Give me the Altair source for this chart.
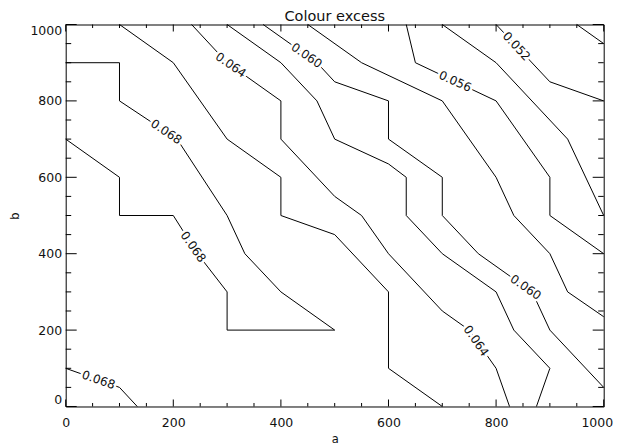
import altair as alt
import pandas as pd

title_text = "Colour excess"
x_title = "a"
y_title = "b"

# contour lines, vertices in data units (a, b)
c01_a = [0, 100, 133]
c01_b = [100, 50, 0]
c02_a = [0, 100, 100, 200, 245, 300, 300, 500, 400, 333, 300, 207, 100, 100, 0]
c02_b = [700, 600, 500, 500, 400, 300, 200, 200, 300, 400, 500, 700, 800, 900, 900]
c03_a = [100, 200, 300, 400, 400, 500, 600, 600, 700]
c03_b = [1000, 900, 700, 600, 500, 450, 300, 100, 0]
c04_a = [234, 300, 400, 400, 500, 550, 600, 700, 750, 800, 825]
c04_b = [1000, 900, 800, 700, 550, 500, 400, 250, 200, 100, 0]
c05_a = [300, 400, 467, 500, 600, 633, 633, 700, 800, 833, 900, 875]
c05_b = [1000, 900, 800, 700, 635, 600, 500, 400, 300, 200, 100, 0]
c06_a = [367, 467, 500, 600, 600, 700, 700, 767, 867, 900, 1000]
c06_b = [1000, 900, 850, 800, 700, 600, 500, 400, 300, 200, 50]
c07_a = [450, 550, 700, 800, 833, 900, 933, 1000]
c07_b = [1000, 900, 800, 600, 500, 400, 300, 235]
c08_a = [633, 650, 800, 900, 900, 1000]
c08_b = [1000, 900, 800, 600, 500, 400]
c09_a = [700, 800, 933, 1000]
c09_b = [1000, 900, 700, 500]
c10_a = [800, 900, 1000]
c10_b = [1000, 850, 800]
c11_a = [950, 1000]
c11_b = [1000, 950]

contours = [
    ("c01", c01_a, c01_b), ("c02", c02_a, c02_b), ("c03", c03_a, c03_b),
    ("c04", c04_a, c04_b), ("c05", c05_a, c05_b), ("c06", c06_a, c06_b),
    ("c07", c07_a, c07_b), ("c08", c08_a, c08_b), ("c09", c09_a, c09_b),
    ("c10", c10_a, c10_b), ("c11", c11_a, c11_b),
]

# contour labels
label_text = ["0.068", "0.068", "0.068", "0.064", "0.064", "0.060", "0.060", "0.056", "0.052"]
label_a = [61, 187, 237, 307, 763, 448, 855, 724, 838]
label_b = [70, 719, 418, 894, 172, 919, 312, 851, 943]
label_angle = [19, 34, 55, 35, 55, 35, 35, 24, 47]

tick_major = [0, 200, 400, 600, 800, 1000]
tick_minor = [50, 100, 150, 250, 300, 350, 450, 500, 550, 650, 700, 750, 850, 900, 950]

rows = []
for name, av, bv in contours:
    for i, (a, b) in enumerate(zip(av, bv)):
        rows.append({"line": name, "i": i, "a": a, "b": b})
lines_df = pd.DataFrame(rows)
labels_df = pd.DataFrame({"t": label_text, "a": label_a, "b": label_b, "ang": label_angle})

W, H = 538, 382
FONT = "DejaVu Sans"
xs = alt.Scale(domain=[0, 1000], nice=False, zero=False)
ys = alt.Scale(domain=[0, 1000], nice=False, zero=False)

last_x = "datum.value === 1000"
x_axis = alt.Axis(
    values=tick_major, format="d", ticks=False, domain=False, grid=False,
    labelPadding=10, labelFlush=False, labelFont=FONT, labelFontSize=12.5,
    labelAlign={"condition": {"test": last_x, "value": "right"}, "value": "center"},
    labelOffset={"condition": {"test": last_x, "value": 9}, "value": 0},
    labelColor="#111", title=x_title, titleFont=FONT, titleFontSize=11.5,
    titleFontWeight="normal", titleColor="#111", titleY=36,
    titleBaseline="alphabetic")
y_axis = alt.Axis(
    values=tick_major, format="d", ticks=False, domain=False, grid=False,
    labelPadding=4, labelFlush=True, labelFont=FONT, labelFontSize=12.5,
    labelColor="#111", title=y_title, titleFont=FONT, titleFontSize=11.5,
    titleFontWeight="normal", titleColor="#111", titleX=-47.5, titleY=191,
    titleAngle=270, titleAlign="center", titleBaseline="alphabetic")

lines = alt.Chart(lines_df).mark_line(color="black", strokeWidth=1).encode(
    x=alt.X("a:Q", scale=xs, axis=x_axis),
    y=alt.Y("b:Q", scale=ys, axis=y_axis),
    detail="line:N",
    order="i:Q",
)

halo = alt.Chart(labels_df).mark_text(
    font=FONT, fontSize=12, color="white", stroke="white", strokeWidth=5,
    align="center", baseline="middle",
).encode(
    x=alt.X("a:Q", scale=xs, axis=x_axis),
    y=alt.Y("b:Q", scale=ys, axis=y_axis),
    text="t:N",
    angle=alt.Angle("ang:Q", scale=None),
)
texts = alt.Chart(labels_df).mark_text(
    font=FONT, fontSize=12, color="#111", align="center", baseline="middle",
).encode(
    x=alt.X("a:Q", scale=xs, axis=x_axis),
    y=alt.Y("b:Q", scale=ys, axis=y_axis),
    text="t:N",
    angle=alt.Angle("ang:Q", scale=None),
)


def xticks(vals, y0, y1):
    return alt.Chart(pd.DataFrame({"a": vals})).mark_rule(color="black", strokeWidth=1).encode(
        x=alt.X("a:Q", scale=xs, axis=x_axis), y=alt.value(y0), y2=alt.value(y1))


def yticks(vals, x0, x1):
    return alt.Chart(pd.DataFrame({"b": vals})).mark_rule(color="black", strokeWidth=1).encode(
        y=alt.Y("b:Q", scale=ys, axis=y_axis), x=alt.value(x0), x2=alt.value(x1))


ticks = [
    xticks(tick_major, H, H - 7), xticks(tick_minor, H, H - 3.5),
    xticks(tick_major, 0, 7), xticks(tick_minor, 0, 3.5),
    yticks(tick_major, 0, 11), yticks(tick_minor, 0, 5.5),
    yticks(tick_major, W, W - 11), yticks(tick_minor, W, W - 5.5),
]

chart = alt.layer(lines, *ticks, halo, texts).properties(
    width=W, height=H,
    title=alt.TitleParams(title_text, font=FONT, fontSize=14.5, fontWeight="normal",
                          color="#111", anchor="middle", frame="group", offset=-2),
    autosize=alt.AutoSizeParams(type="none"),
    padding={"left": 57.7, "top": 16.5, "right": 9, "bottom": 39},
).configure_view(stroke="black", strokeWidth=1)

chart.save("out.html", embed_options={"renderer": "svg", "actions": False})
